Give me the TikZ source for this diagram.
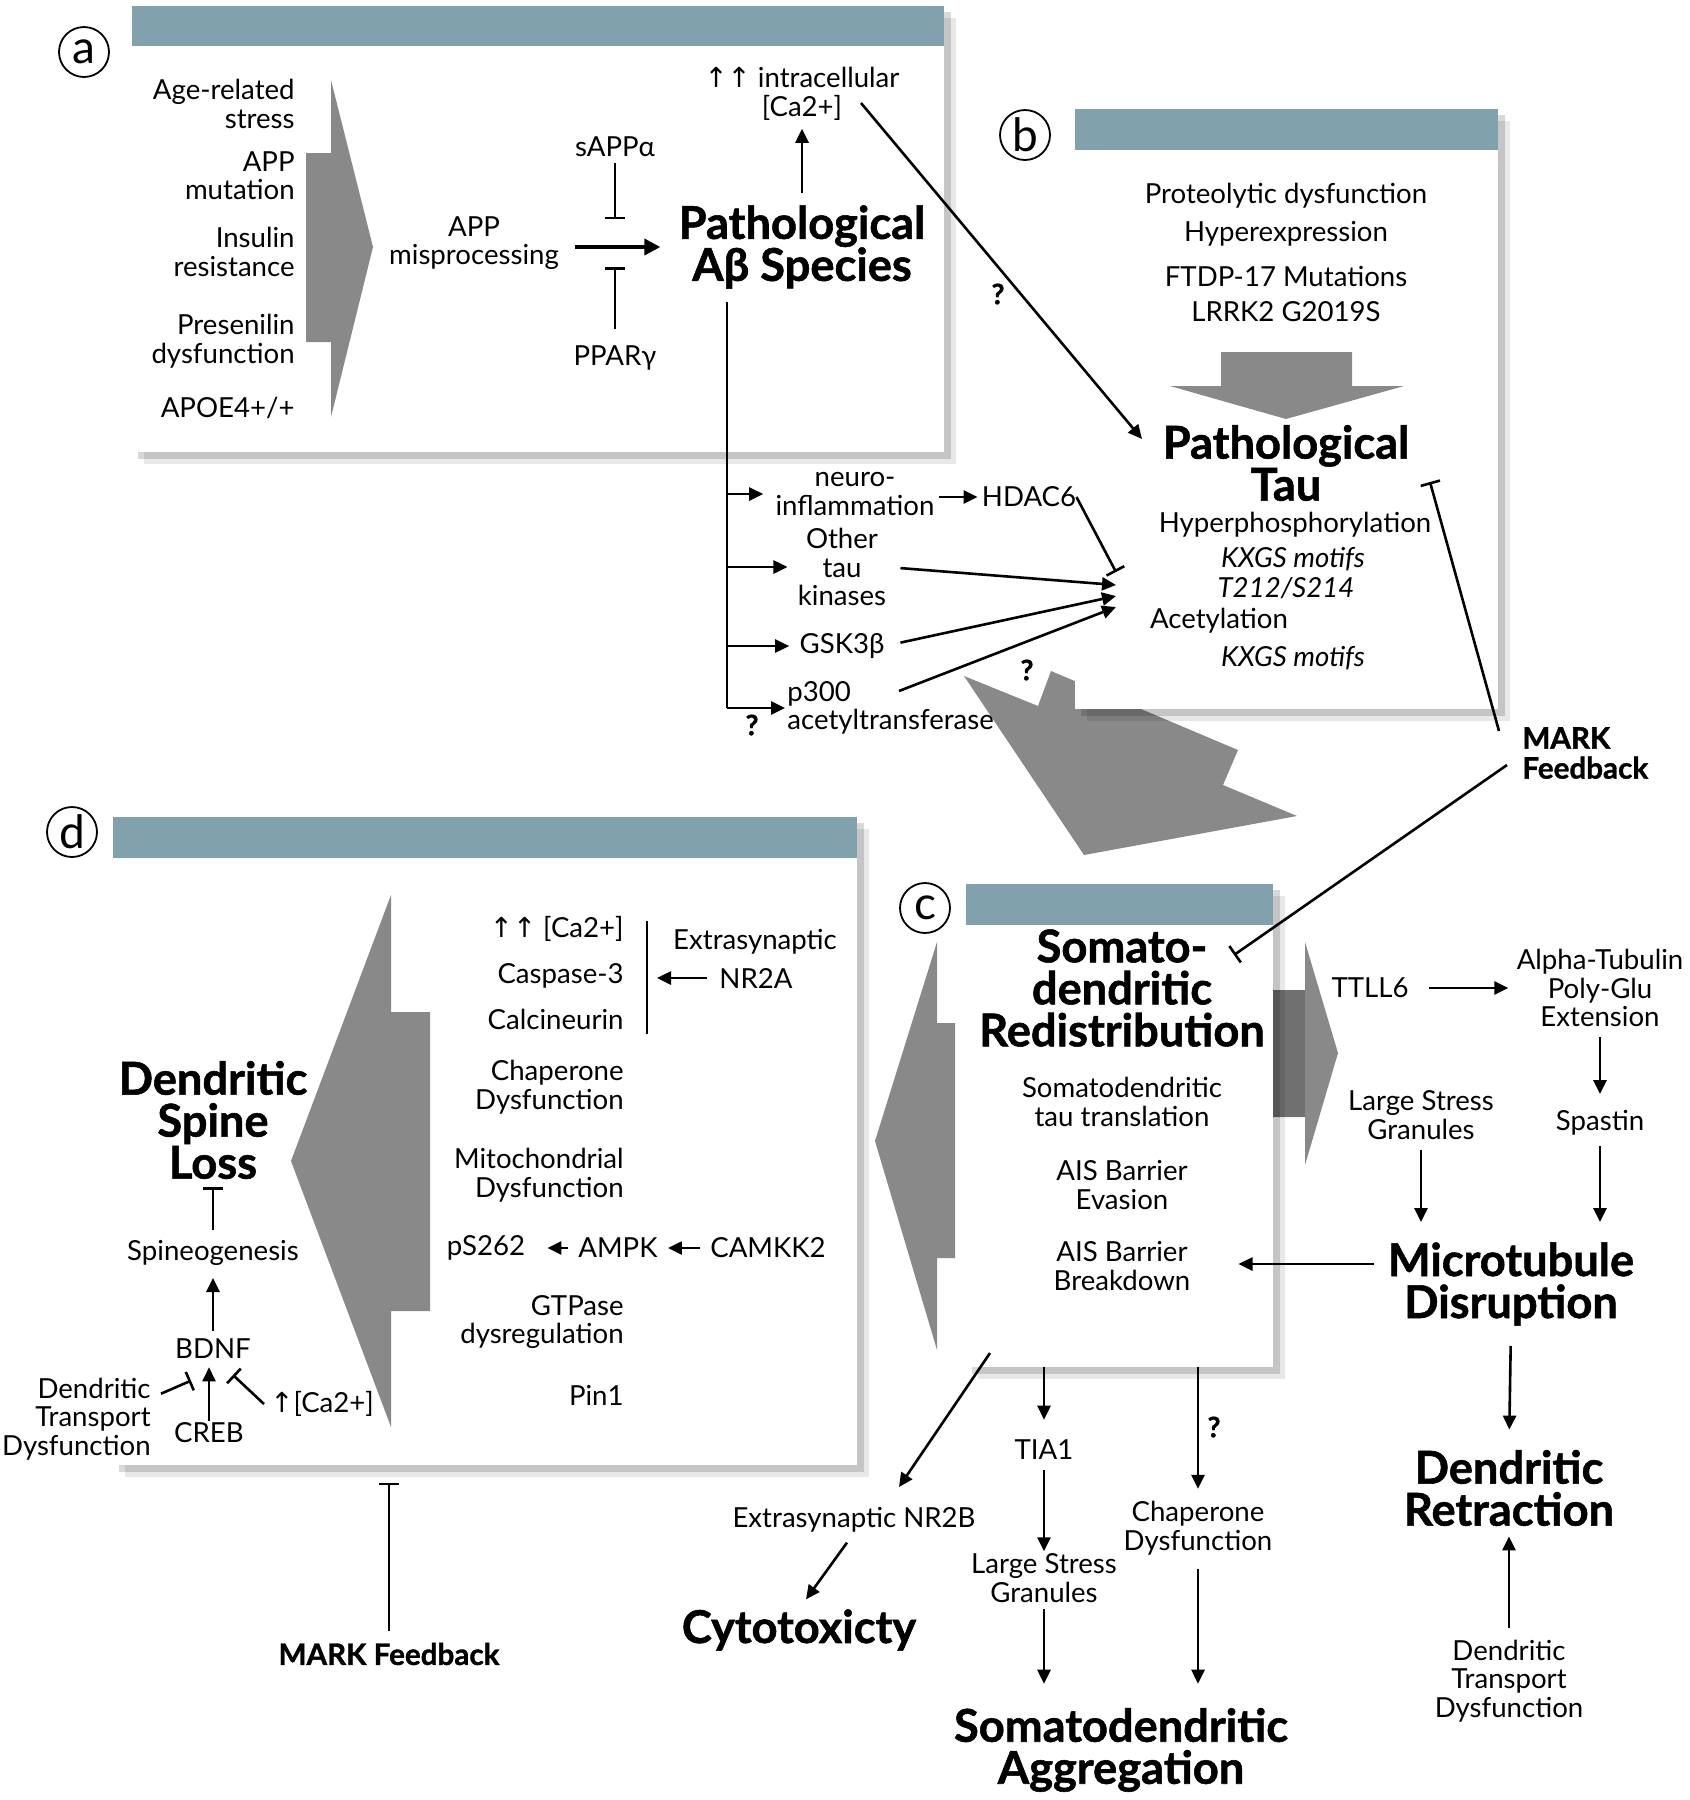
\documentclass[tikz,border=0pt]{standalone}
\usepackage{fontspec}
\setmainfont{Lato}
\newfontfamily\hvy{Lato}[BoldFeatures={FakeBold=1.2}]
\newfontfamily\dejavu{DejaVu Sans}
\usetikzlibrary{arrows.meta,fit}
\definecolor{barblue}{HTML}{81A1AD}
\definecolor{agray}{HTML}{898989}
\definecolor{adark}{HTML}{707070}
\begin{document}
\begin{tikzpicture}[x=0.5pt,y=-0.5pt,
  txt/.style={font=\fontsize{13.8}{14.2}\selectfont, align=center, inner sep=0pt},
  itx/.style={font=\fontsize{13.8}{14.2}\itshape\selectfont, align=center, inner sep=0pt},
  hd/.style={font=\fontsize{22.6}{21}\hvy\bfseries\selectfont, align=center, inner sep=0pt},
  hds/.style={font=\fontsize{14.8}{15}\hvy\bfseries\selectfont, inner sep=0pt},
  qm/.style={font=\fontsize{14}{14}\hvy\bfseries\selectfont, inner sep=0pt},
  circ/.style={circle, draw, line width=0.9pt, minimum size=25pt, inner sep=0pt, font=\fontsize{23}{23}\selectfont},
  arr/.style={line width=1.3pt, -{Triangle[length=7pt,width=6.5pt]}},
  inh/.style={line width=1.3pt, -{Bar[width=10pt]}},
  ln/.style={line width=1.3pt},
  sh1/.style={fill=black, opacity=0.09},
  sh2/.style={fill=black, opacity=0.15},
  boxn/.style={fill=white, inner sep=0pt, draw=none},
  bigarr/.style={fill=agray, draw=none}]
\useasboundingbox (0,0) rectangle (1690,1800);
\fill[white] (0,0) rectangle (1690,1800);

% ---------------- Panel a ----------------
\fill[sh1] (144,18) rectangle (956,464);
\fill[sh2] (138,12) rectangle (951,459);
\node[boxn, fit={(132,46) (944,452)}] (boxa) {};
\fill[barblue] (132,6) rectangle (944,46);
\node[circ] (la) at (84,52) {a};
\fill[bigarr] (331,80) -- (373,247) -- (331,417) -- (331,342) -- (306,342) -- (306,153) -- (331,153) -- cycle;
\node[txt,anchor=east,align=right] (age) at (295,104) {Age-related\\stress};
\node[txt,anchor=east,align=right] (appm) at (295,176) {APP\\mutation};
\node[txt,anchor=east,align=right] (ins) at (295,252) {Insulin\\resistance};
\node[txt,anchor=east,align=right] (pres) at (295,341) {Presenilin\\dysfunction};
\node[txt,anchor=east,align=right] (apoe) at (295,408) {APOE4+/+};
\node[txt] (mis) at (474,243) {APP\\misprocessing};
\node[txt] (sapp) at (615,147) {sAPPα};
\node[txt] (ppar) at (615,358) {PPARγ};
\node[hd] (abeta) at (802,247) {Pathological\\Aβ Species};
\node[txt] (ca) at (802,94) {{\dejavu ↑↑} intracellular\\{[Ca2+]}};
\node[qm] (q1) at (998,294) {?};

% ---------------- b -> c big arrow ----------------
\fill[bigarr] (964,676) -- (1038,706) -- (1051,671) -- (1238,750) -- (1223,785) -- (1297,816) -- (1084,855) -- cycle;

% ---------------- Panel b ----------------
\fill[sh1] (1087,121) rectangle (1510,721);
\fill[sh2] (1081,115) rectangle (1505,716);
\node[boxn, fit={(1075,150) (1498,709)}] (boxb) {};
\fill[barblue] (1075,109) rectangle (1498,150);
\node[circ] (lb) at (1025,135) {b};
\node[txt] (prot) at (1286,196) {Proteolytic dysfunction};
\node[txt] (hypx) at (1286,234) {Hyperexpression};
\node[txt] (ftdp) at (1286,276) {FTDP-17 Mutations};
\node[txt] (lrrk) at (1286,312) {LRRK2 G2019S};
\fill[bigarr] (1221,352) -- (1352,352) -- (1352,386) -- (1404,386) -- (1286,419) -- (1170,386) -- (1221,386) -- cycle;
\node[hd] (tau) at (1286,463) {Pathological\\Tau};
\node[txt] (hyp) at (1295,525) {Hyperphosphorylation};
\node[itx] (kx1) at (1293,559) {KXGS motifs};
\node[itx] (t212) at (1286,588) {T212/S214};
\node[txt] (acet) at (1219,621) {Acetylation};
\node[itx] (kx2) at (1293,658) {KXGS motifs};

% ---------------- middle pathway ----------------
\node[txt] (neuro) at (855,494) {neuro-\\inflammation};
\node[txt] (hdac) at (1029,497) {HDAC6};
\node[txt] (other) at (842,567) {Other\\tau\\kinases};
\node[txt] (gsk) at (842,646) {GSK3β};
\node[txt,align=left,anchor=west] (p300) at (787,708) {p300\\acetyltransferase};
\node[qm] (q2) at (752,725) {?};
\node[qm] (q3) at (1027,670) {?};

% ---------------- Panel c ----------------
\fill[bigarr] (1250,990) -- (1305,990) -- (1305,942) -- (1338,1053) -- (1305,1165) -- (1305,1117) -- (1250,1117) -- cycle;
\fill[adark] (1273,990) rectangle (1305,1117);
\fill[bigarr] (875,1141) -- (937,942) -- (937,1023) -- (955,1023) -- (955,1258) -- (937,1258) -- (937,1350) -- cycle;
\fill[sh1] (978,896) rectangle (1285,1379);
\fill[sh2] (972,890) rectangle (1280,1374);
\node[boxn, fit={(966,925) (1273,1367)}] (boxc) {};
\fill[barblue] (966,884) rectangle (1273,925);
\node[circ] (lc) at (925,908) {c};
\node[hd] (sdr) at (1122,988) {Somato-\\dendritic\\Redistribution};
\node[txt] (sdt) at (1122,1102) {Somatodendritic\\tau translation};
\node[txt] (ais1) at (1122,1185) {AIS Barrier\\Evasion};
\node[txt] (ais2) at (1122,1266) {AIS Barrier\\Breakdown};

\node[txt] (ttll) at (1370,988) {TTLL6};
\node[txt] (alpha) at (1600,988) {Alpha-Tubulin\\Poly-Glu\\Extension};
\node[txt] (spastin) at (1600,1123) {Spastin};
\node[txt] (lsg) at (1421,1115) {Large Stress\\Granules};
\node[hd] (mtd) at (1511,1284) {Microtubule\\Disruption};
\node[hd] (dret) at (1509,1488) {Dendritic\\Retraction};
\node[txt] (dtd2) at (1509,1681) {Dendritic\\Transport\\Dysfunction};
\node[hds,align=left,anchor=west] (mark1) at (1522,753) {MARK\\Feedback};

\node[txt] (nr2b) at (854,1520) {Extrasynaptic NR2B};
\node[hd] (cyto) at (799,1630) {Cytotoxicty};
\node[txt] (tia) at (1044,1450) {TIA1};
\node[txt] (lsg2) at (1044,1578) {Large Stress\\Granules};
\node[txt] (chap2) at (1198,1528) {Chaperone\\Dysfunction};
\node[qm] (q4) at (1214,1427) {?};
\node[hd] (sagg) at (1121,1750) {Somatodendritic\\Aggregation};

% ---------------- Panel d ----------------
\fill[sh1] (125,829) rectangle (869,1477);
\fill[sh2] (119,823) rectangle (864,1472);
\node[boxn, fit={(113,858) (857,1465)}] (boxd) {};
\fill[barblue] (113,817) rectangle (857,858);
\node[circ] (ld) at (72,832) {d};
\fill[bigarr] (291,1161) -- (391,895) -- (391,1012) -- (430,1012) -- (430,1311) -- (391,1311) -- (391,1427) -- cycle;
\node[txt,anchor=east,align=right] (ca2) at (624,929) {{\dejavu ↑↑} [Ca2+]};
\node[txt,anchor=east,align=right] (casp) at (624,976) {Caspase-3};
\node[txt,anchor=east,align=right] (calc) at (624,1019) {Calcineurin};
\node[txt,anchor=east,align=right] (chap1) at (624,1087) {Chaperone\\Dysfunction};
\node[txt,anchor=east,align=right] (mito) at (624,1175) {Mitochondrial\\Dysfunction};
\node[txt] (ps) at (486,1248) {pS262};
\node[txt] (ampk) at (618,1248) {AMPK};
\node[txt] (camk) at (768,1248) {CAMKK2};
\node[txt,anchor=east,align=right] (gtp) at (624,1322) {GTPase\\dysregulation};
\node[txt,anchor=east,align=right] (pin) at (624,1395) {Pin1};
\node[txt] (extra) at (755,942) {Extrasynaptic};
\node[txt] (nr2a) at (756,978) {NR2A};
\coordinate (bartop) at (647,921);
\coordinate (barbot) at (647,1034);
\node[hd] (dsl) at (213,1120) {Dendritic\\Spine\\Loss};
\node[txt] (spino) at (213,1253) {Spineogenesis};
\node[txt] (bdnf) at (213,1349) {BDNF};
\node[txt] (creb) at (209,1433) {CREB};
\node[txt,anchor=east,align=right] (dtd1) at (151,1419) {Dendritic\\Transport\\Dysfunction};
\node[txt,anchor=west] (ca3) at (270,1404) {{\dejavu ↑}[Ca2+]};
\node[hds] (mark2) at (389,1654) {MARK Feedback};

% ---------------- connectors ----------------
\coordinate (caout) at (861,103);
\coordinate (tauin) at (1142,439);
\coordinate (vtop) at (727,302);
\coordinate (vbot) at (727,708);
\coordinate (hub1) at (1116,572);
\coordinate (hub2) at (1116,585);
\coordinate (hub3) at (1116,596);
\coordinate (hub4) at (1116,607);
\coordinate (p300out) at (899,691);
\coordinate (markA) at (1499,731);
\coordinate (tauinh) at (1430,482);
\coordinate (markB) at (1507,765);
\coordinate (cinh) at (1234,955);
\coordinate (cout) at (990,1353);
\coordinate (nr2bin) at (899,1487);

% panel a
\draw[line width=1.8pt, -{Triangle[length=8pt,width=8pt]}, shorten <=8pt, shorten >=9pt] (mis.east |- abeta.west) -- (abeta.west);
\draw[inh] (sapp.south) ++(0,6) -- ++(0,56);
\draw[inh] (ppar.north) ++(0,-16) -- ++(0,-62);
\draw[arr, shorten <=6pt, shorten >=4pt] (abeta.north) -- (ca.south);
\draw[arr] (caout) -- (tauin);

% middle
\draw[ln] (vtop) -- (vbot);
\draw[arr, shorten >=6pt] (vtop |- neuro) -- (neuro.west);
\draw[arr, shorten >=5pt] (vtop |- other) -- (other.west);
\draw[arr, shorten >=5pt] (vtop |- gsk) -- (gsk.west);
\draw[arr, shorten >=1pt] (vbot) -- (p300.west);
\draw[arr, shorten <=2pt, shorten >=2pt] (neuro.east |- hdac.west) -- (hdac.west);
\draw[inh] (hdac.east) -- (hub1);
\draw[arr, shorten <=7pt] (other.east) -- (hub2);
\draw[arr, shorten <=8pt] (gsk.east) -- (hub3);
\draw[arr] (p300out) -- (hub4);

% MARK feedback right
\draw[inh] (markA) -- (tauinh);
\draw[inh] (markB) -- (cinh);

% panel c right side
\draw[arr, shorten <=10pt, shorten >=4pt] (ttll.east) -- (ttll.east -| alpha.west);
\draw[arr, shorten <=5pt, shorten >=8pt] (alpha.south) -- (spastin.north);
\draw[arr, shorten <=5pt, shorten >=10pt] (lsg.south) -- (lsg.south |- mtd.north);
\draw[arr, shorten <=5pt, shorten >=10pt] (spastin.south) -- (spastin.south |- mtd.north);
\draw[arr] ([xshift=-7pt,yshift=10pt]mtd.west) -- ++(-135,0);
\draw[arr, shorten <=10pt, shorten >=10pt] (mtd.south) -- (dret.north);
\draw[arr, shorten <=6pt, shorten >=5pt] (dtd2.north) -- (dret.south);

% below c
\draw[arr] (cout) -- (nr2bin);
\draw[arr, shorten <=6pt, shorten >=6pt] (nr2b.south) -- (cyto.north);
\draw[arr, shorten >=10pt] (boxc.south -| tia.north) -- (tia.north);
\draw[arr, shorten <=5pt, shorten >=1pt] (tia.south) -- (lsg2.north);
\draw[arr, shorten <=3pt, shorten >=12pt] (lsg2.south) -- (lsg2.south |- sagg.north);
\draw[arr, shorten >=6pt] (boxc.south -| chap2.north) -- (chap2.north);
\draw[arr, shorten <=7pt, shorten >=12pt] (chap2.south) -- (chap2.south |- sagg.north);

% panel d
\draw[ln] (bartop) -- (barbot);
\draw[arr, shorten <=6pt, shorten >=5pt] (nr2a.west) -- (nr2a.west -| barbot);
\draw[arr, shorten <=5pt, shorten >=11pt] (ampk.west) -- (ps.east);
\draw[arr, shorten <=5pt, shorten >=5pt] (camk.west) -- (camk.west -| ampk.east);
\draw[inh, shorten <=5pt, shorten >=4pt] (spino.north) -- (dsl.south);
\draw[arr, shorten <=4pt, shorten >=6pt] (bdnf.north) -- (spino.south);
\draw[arr, shorten <=1pt, shorten >=4pt] (creb.north) -- (creb.north |- bdnf.south);
\draw[inh] (dtd1.north east) ++(10,16) -- ++(30,-13);
\draw[inh] (ca3.west) ++(-6,0) -- ++(-31,-29);
\draw[inh, shorten <=6pt] (mark2.north) -- ++(0,-160);
\end{tikzpicture}
\end{document}
